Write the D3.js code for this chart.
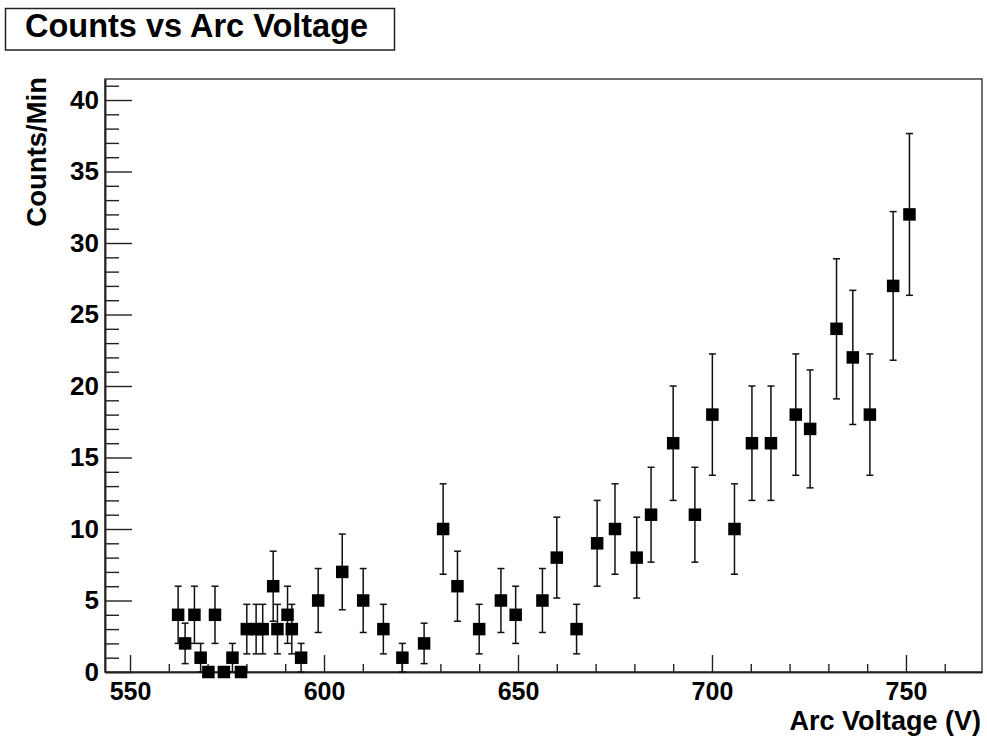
<!DOCTYPE html>
<html>
<head>
<meta charset="utf-8">
<script src="https://cdn.jsdelivr.net/npm/d3@7"></script>
<style>
  html, body { margin: 0; padding: 0; background: #fff; }
  svg { display: block; }
  text { font-family: "Liberation Sans", Arial, Helvetica, sans-serif; font-weight: bold; fill: #000; }
</style>
</head>
<body>
<svg id="chart" width="987" height="740"></svg>
<script>
// ---- data ----
const voltage = [562.4, 564.2, 566.6, 568.2, 570.2, 571.9, 574.2, 576.4, 578.6, 580.1, 582.5, 584.2,
  586.9, 588.0, 590.6, 591.7, 594.1, 598.5, 604.7, 610.1, 615.3, 620.2, 625.8, 630.7, 634.4, 640.0,
  645.6, 649.4, 656.3, 660.0, 665.1, 670.4, 675.0, 680.6, 684.3, 690.0, 695.6, 700.1, 705.8, 710.3,
  715.2, 721.6, 725.3, 732.1, 736.3, 740.7, 746.7, 750.9];
const counts = [4, 2, 4, 1, 0, 4, 0, 1, 0, 3, 3, 3,
  6, 3, 4, 3, 1, 5, 7, 5, 3, 1, 2, 10, 6, 3,
  5, 4, 5, 8, 3, 9, 10, 8, 11, 16, 11, 18, 10, 16,
  16, 18, 17, 24, 22, 18, 27, 32];
const errors = counts.map(c => Math.sqrt(c));
const xMajorTicks = [550, 600, 650, 700, 750];
const yMajorTicks = [0, 5, 10, 15, 20, 25, 30, 35, 40];
const xDomain = [543.55, 769.6];
const yDomain = [0, 41.47];
const titleText = "Counts vs Arc Voltage";
const xTitle = "Arc Voltage (V)";
const yTitle = "Counts/Min";

// ---- layout ----
const L = 105, R = 982, T = 79, B = 672;
const svg = d3.select("#chart");
const x = d3.scaleLinear().domain(xDomain).range([L, R]);
const y = d3.scaleLinear().domain(yDomain).range([B, T]);

// frame
svg.append("rect").attr("x", L).attr("y", T).attr("width", R - L).attr("height", B - T)
  .attr("fill", "none").attr("stroke", "#222").attr("stroke-width", 1.3);

// minor ticks
const xMinor = d3.range(550, 761, 10).filter(v => !xMajorTicks.includes(v));
const yMinor = d3.range(0, 42, 1).filter(v => !yMajorTicks.includes(v));

const xAxisMinor = d3.axisBottom(x).tickValues(xMinor).tickSizeInner(-8).tickSizeOuter(0).tickFormat("");
const xAxis = d3.axisBottom(x).tickValues(xMajorTicks).tickSizeInner(-17).tickSizeOuter(0).tickPadding(10).tickFormat(d3.format("d"));
const yAxisMinor = d3.axisLeft(y).tickValues(yMinor).tickSizeInner(-14).tickSizeOuter(0).tickFormat("");
const yAxis = d3.axisLeft(y).tickValues(yMajorTicks).tickSizeInner(-27).tickSizeOuter(0).tickPadding(6).tickFormat(d3.format("d"));

function styleAxis(g, fs) {
  g.select(".domain").attr("stroke", "#222").attr("stroke-width", 1.5);
  g.selectAll(".tick line").attr("stroke", "#222").attr("stroke-width", 1.4);
  g.selectAll(".tick text").attr("font-size", fs).attr("font-family", "Liberation Sans, Arial, sans-serif").attr("font-weight", "bold").attr("fill", "#000");
}
svg.append("g").attr("transform", `translate(0,${B})`).call(xAxisMinor).call(styleAxis, 25);
svg.append("g").attr("transform", `translate(0,${B})`).call(xAxis).call(styleAxis, 25);
svg.append("g").attr("transform", `translate(${L},0)`).call(yAxisMinor).call(styleAxis, 26);
svg.append("g").attr("transform", `translate(${L},0)`).call(yAxis).call(styleAxis, 26);

// axis titles
svg.append("text").attr("x", 981).attr("y", 730).attr("text-anchor", "end")
  .attr("font-size", 27).text(xTitle);
svg.append("text").attr("transform", `translate(46,77) rotate(-90)`).attr("text-anchor", "end")
  .attr("font-size", 27.5).text(yTitle);

// error bars
const data = voltage.map((v, i) => ({ v, c: counts[i], e: errors[i] }));
const eb = svg.append("g").attr("stroke", "#111").attr("stroke-width", 1.5).attr("fill", "none");
const withErr = data.filter(d => d.e > 0);
eb.selectAll("line.v").data(withErr).join("line").attr("class", "v")
  .attr("x1", d => x(d.v)).attr("x2", d => x(d.v))
  .attr("y1", d => y(d.c - d.e)).attr("y2", d => y(d.c + d.e));
const capW = 3.5;
eb.selectAll("line.t").data(withErr).join("line").attr("class", "t")
  .attr("x1", d => x(d.v) - capW).attr("x2", d => x(d.v) + capW)
  .attr("y1", d => y(d.c + d.e)).attr("y2", d => y(d.c + d.e));
eb.selectAll("line.b").data(withErr).join("line").attr("class", "b")
  .attr("x1", d => x(d.v) - capW).attr("x2", d => x(d.v) + capW)
  .attr("y1", d => y(d.c - d.e)).attr("y2", d => y(d.c - d.e));

// markers
const ms = 12.5;
svg.append("g").selectAll("rect").data(data).join("rect")
  .attr("x", d => x(d.v) - ms / 2).attr("y", d => y(d.c) - ms / 2)
  .attr("width", ms).attr("height", ms).attr("fill", "#000");

// title box
svg.append("rect").attr("x", 5.5).attr("y", 8.5).attr("width", 389).attr("height", 41.5)
  .attr("fill", "#fff").attr("stroke", "#222").attr("stroke-width", 1.5);
svg.append("text").attr("x", 25).attr("y", 37).attr("font-size", 32.5).text(titleText);
</script>
</body>
</html>
